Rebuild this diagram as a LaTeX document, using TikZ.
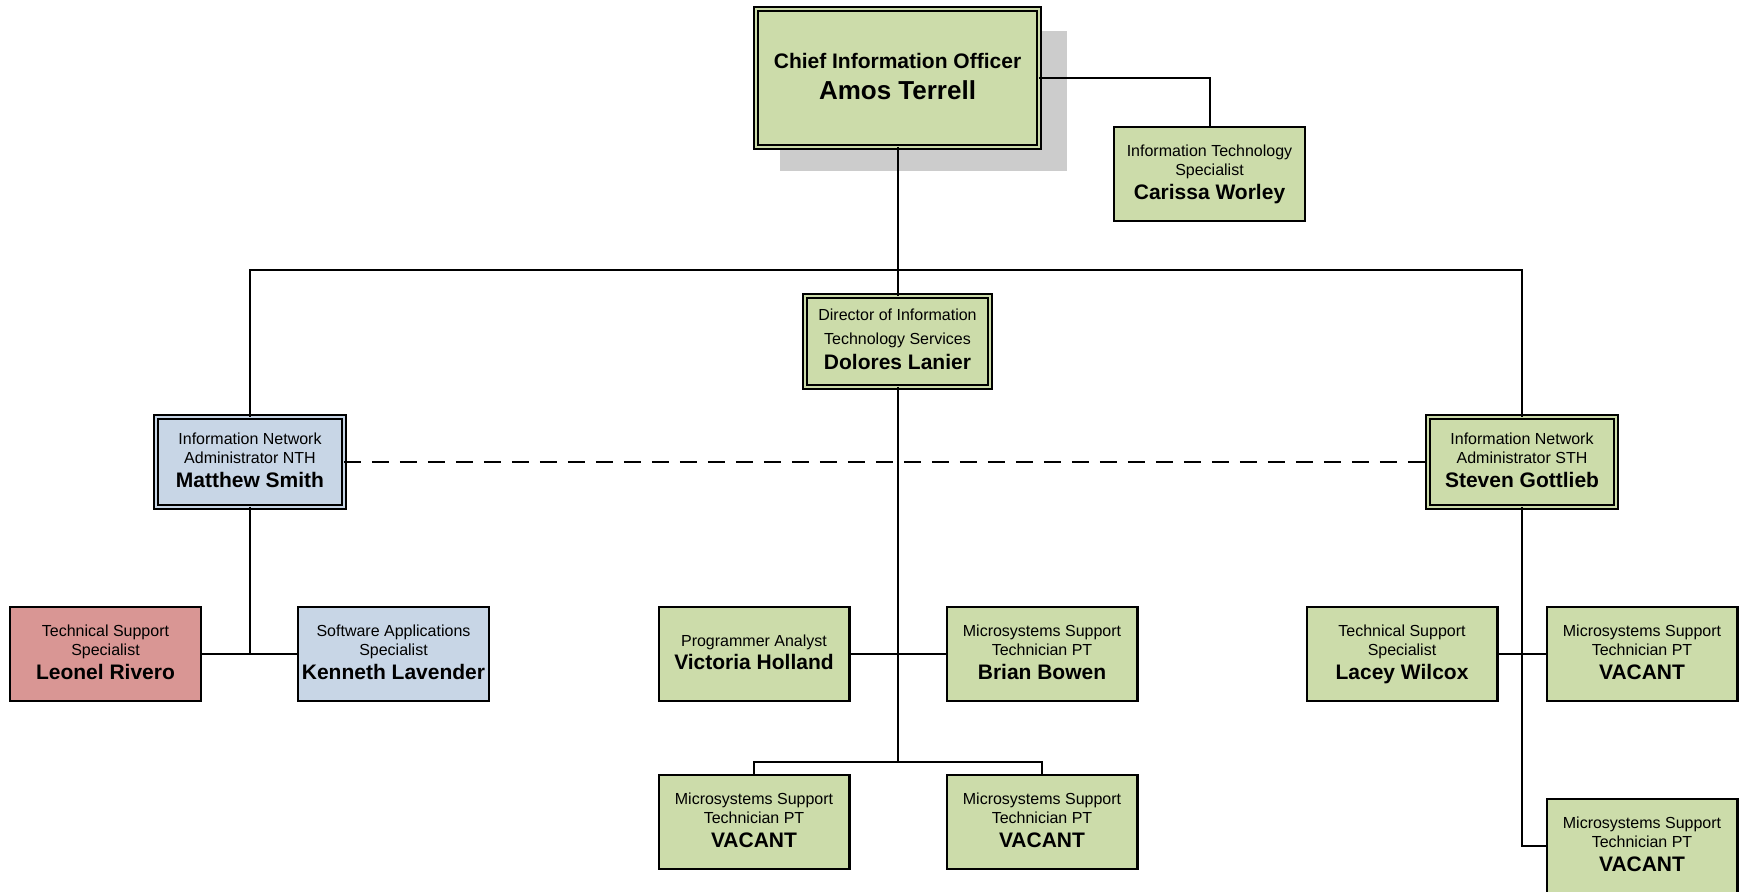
\documentclass[tikz,border=0pt]{standalone}
\usepackage{fontspec}
\setmainfont{Liberation Sans}
\usetikzlibrary{shadows}
\definecolor{boxgreen}{RGB}{204,220,170}
\definecolor{boxblue}{RGB}{200,214,230}
\definecolor{boxred}{RGB}{217,150,148}
\definecolor{shadowgray}{RGB}{204,204,204}
\newcommand\pname[1]{{\fontsize{21}{24}\selectfont\bfseries #1}}
\begin{document}
\begin{tikzpicture}[x=1pt,y=-1pt,
  every node/.style={inner sep=0pt, outer sep=0pt},
  post/.style={rectangle, draw=black, fill=#1, line width=2.3pt,
    minimum width=190.7pt, minimum height=93.7pt, align=center,
    text depth=4pt,
    font=\fontsize{16}{19.5}\selectfont},
  post/.default=boxgreen,
  dblpost/.style={post=#1, double=#1, line width=2.1pt, double distance=2pt,
    minimum width=187.8pt, minimum height=89.8pt},
  dblpost/.default=boxgreen,
  conn/.style={line width=2pt},
  dotted link/.style={line width=2pt, dash pattern=on 17pt off 11pt}
]
\useasboundingbox (0,0) rectangle (1739,891);
\clip (0,0) rectangle (1739,891);

% Top
\node[dblpost, minimum width=282.8pt, minimum height=137.8pt,
  font=\fontsize{21}{27}\selectfont\bfseries,
  drop shadow={shadow xshift=26pt, shadow yshift=-23pt, fill=shadowgray, opacity=1, shadow scale=1.015}]
  (cio) at (897.5,78) {Chief Information Officer\\[4pt]{\fontsize{26}{27}\selectfont Amos Terrell}};
\node[post] (its) at (1209.5,174) {Information Technology\\Specialist\\[4pt]\pname{Carissa Worley}};
\node[dblpost, font=\fontsize{16}{24}\selectfont, minimum width=184.8pt, minimum height=90.8pt]
  (dir) at (897.5,341.5) {Director of Information\\Technology Services\\[1pt]\pname{Dolores Lanier}};

% Network administrators
\node[dblpost=boxblue] (nth) at (250,462) {Information Network\\Administrator NTH\\[4pt]\pname{Matthew Smith}};
\node[dblpost] (sth) at (1522,462) {Information Network\\Administrator STH\\[4pt]\pname{Steven Gottlieb}};

% Row 1
\node[post=boxred] (leonel) at (105.5,654) {Technical Support\\Specialist\\[4pt]\pname{Leonel Rivero}};
\node[post=boxblue] (kenneth) at (393.5,654) {Software Applications\\Specialist\\[4pt]\pname{Kenneth Lavender}};
\node[post] (victoria) at (754,654) {Programmer Analyst\\[4pt]\pname{Victoria Holland}};
\node[post] (brian) at (1042,654) {Microsystems Support\\Technician PT\\[4pt]\pname{Brian Bowen}};
\node[post] (lacey) at (1402,654) {Technical Support\\Specialist\\[4pt]\pname{Lacey Wilcox}};
\node[post] (vacc) at (1642,654) {Microsystems Support\\Technician PT\\[4pt]\pname{VACANT}};

% Row 2
\node[post] (vaca) at (754,822) {Microsystems Support\\Technician PT\\[4pt]\pname{VACANT}};
\node[post] (vacb) at (1042,822) {Microsystems Support\\Technician PT\\[4pt]\pname{VACANT}};
\node[post] (vacd) at (1642,846) {Microsystems Support\\Technician PT\\[4pt]\pname{VACANT}};

% Connectors
\coordinate (bar) at (897.5,270);
\coordinate (dirjoin) at (897.5,762);
\draw[conn] (cio.south) -- (dir.north);
\draw[conn] (cio.east) -| (its.north);
\draw[conn] (nth.north) |- (bar) -| (sth.north);
\draw[dotted link] (nth.east) -- (sth.west);
\draw[conn] (nth.south) -- (nth.south |- leonel.east);
\draw[conn] (leonel.east) -- (kenneth.west);
\draw[conn] (dir.south) -- (dirjoin);
\draw[conn] (victoria.east) -- (brian.west);
\draw[conn] (vaca.north) |- (dirjoin) -| (vacb.north);
\draw[conn] (sth.south) |- (vacd.west);
\draw[conn] (lacey.east) -- (vacc.west);
\end{tikzpicture}
\end{document}
